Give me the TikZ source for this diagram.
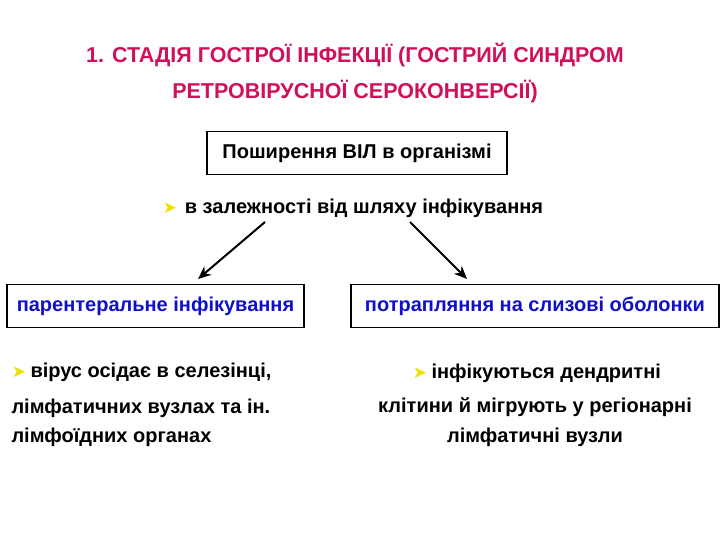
\documentclass[tikz,border=0pt]{standalone}
\usepackage{fontspec}
\usetikzlibrary{arrows.meta}
\setmainfont{Liberation Sans}
\newfontfamily\djv{DejaVu Sans}
\definecolor{ttl}{HTML}{D0105A}
\definecolor{bl}{HTML}{1010C8}
\definecolor{yel}{HTML}{F0E000}
\begin{document}
\begin{tikzpicture}[x=1pt,y=-1pt,
 ttlt/.style={text=ttl,font=\bfseries\fontsize{21.5}{24}\selectfont},
 txt/.style={font=\bfseries\fontsize{20}{24}\selectfont},
 bx/.style={draw,line width=1.8pt,minimum height=43pt},
 arr/.style={-{Stealth[length=13pt,width=11pt]},line width=2pt},
 bul/.style={text=yel,font=\djv\fontsize{17}{20}\selectfont}]
\useasboundingbox (0,0) rectangle (720,540);
\node[ttlt] (t1) at (355,55) {1. СТАДІЯ ГОСТРОЇ ІНФЕКЦІЇ (ГОСТРИЙ СИНДРОМ};
\node[ttlt] (t2) at (355,92) {РЕТРОВІРУСНОЇ СЕРОКОНВЕРСІЇ)};
\node[bx,txt,minimum width=300pt] (b1) at (357,153) {Поширення ВІЛ в організмі};
\node[txt] (s) at (364,208) {в залежності від шляху інфікування};
\node[bul] (sb) at (170,208) {➤};
\coordinate (s1) at (265,222);
\coordinate (s2) at (410,222);
\coordinate (e1) at (198,279);
\coordinate (e2) at (467,279);
\node[bx,minimum width=297pt,text=bl,font=\bfseries\fontsize{20}{24}\selectfont] (l) at (155.5,306) {парентеральне інфікування};
\node[bx,minimum width=368pt,text=bl,font=\bfseries\fontsize{20}{24}\selectfont] (r) at (535,306) {потрапляння на слизові оболонки};
\draw[arr] (s1) -- (e1);
\draw[arr] (s2) -- (e2);
\node[bul] (lb) at (19,372) {➤};
\node[txt,anchor=west] (l1) at (27,372) {вірус осідає в селезінці,};
\node[txt,anchor=west] (l2) at (8,408) {лімфатичних вузлах та ін.};
\node[txt,anchor=west] (l3) at (8,437) {лімфоїдних органах};
\node[bul] (rb) at (420,373) {➤};
\node[txt,anchor=west] (r1) at (428,373) {інфікуються дендритні};
\node[txt] (r2) at (535,407) {клітини й мігрують у  регіонарні};
\node[txt] (r3) at (535,437) {лімфатичні вузли};
\end{tikzpicture}
\end{document}
